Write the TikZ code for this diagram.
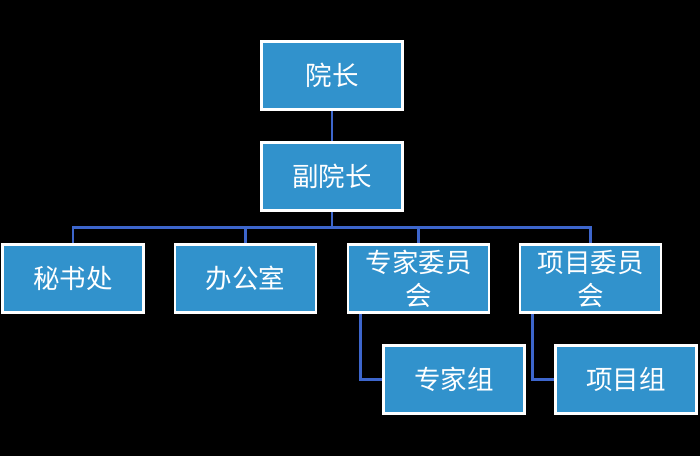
\documentclass[tikz,border=0pt]{standalone}
\usepackage{fontspec}
\newfontfamily\cjk{Noto Sans CJK SC}
\usepackage{tikz}
\usetikzlibrary{positioning}

\definecolor{boxblue}{RGB}{49,146,204}
\definecolor{linkblue}{RGB}{61,102,204}

\begin{document}
\begin{tikzpicture}[x=1pt,y=1pt,
  unit/.style={draw=white,line width=2.5pt,fill=boxblue,minimum width=141pt,minimum height=68pt,align=center,text=white,font=\cjk\fontsize{26.5}{33}\selectfont,inner sep=2pt},
  link/.style={draw=linkblue,line width=2.8pt}]
\fill[black] (0,0) rectangle (700,456);
\useasboundingbox (0,0) rectangle (700,456);
% top of the chart
\node[unit] (dean) at (332,380.5) {院长};
\node[unit] (vdean) at (332,279.5) {副院长};
% departments
\node[unit] (secr) at (73,177.5) {秘书处};
\node[unit] (office) at (245.5,177.5) {办公室};
\node[unit] (expcom) at (418.5,177.5) {专家委员\\会};
\node[unit] (projcom) at (590.5,177.5) {项目委员\\会};
% groups
\node[unit] (expgrp) at (454,76.5) {专家组};
\node[unit] (projgrp) at (626,76.5) {项目组};
% connectors
\draw[link] (dean.south)--(vdean.north);
\draw[link] (vdean.south)--++(0,-16) coordinate (bus);
\draw[link] (bus)-|(secr.north);
\draw[link] (bus)-|(office.north);
\draw[link] (bus)-|(expcom.north);
\draw[link] (bus)-|(projcom.north);
\draw[link] ([xshift=14pt]expcom.south west)|-(expgrp.west);
\draw[link] ([xshift=14pt]projcom.south west)|-(projgrp.west);
\end{tikzpicture}
\end{document}
